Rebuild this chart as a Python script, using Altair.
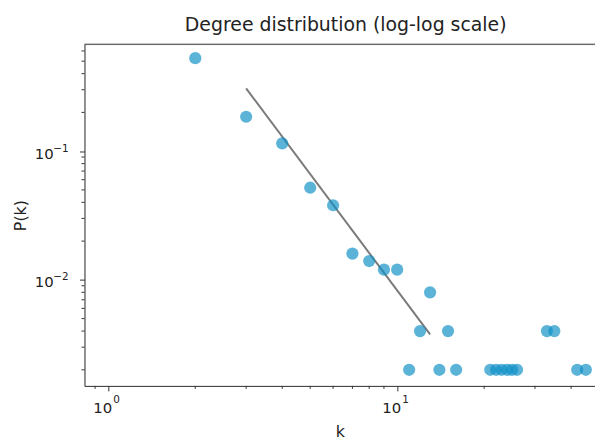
import altair as alt
import pandas as pd

# Data
k_vals = [2, 3, 4, 5, 6, 7, 8, 9, 10, 11, 12, 13, 14, 15, 16,
          21, 22, 23, 24, 25, 26, 33, 35, 42, 45]
p_vals = [0.528, 0.185, 0.115, 0.052, 0.038, 0.016, 0.014, 0.012, 0.012,
          0.002, 0.004, 0.008, 0.002, 0.004, 0.002,
          0.002, 0.002, 0.002, 0.002, 0.002, 0.002,
          0.004, 0.004, 0.002, 0.002]
fit_k = [3, 13]
fit_p = [0.307, 0.00377]

x_major = [1, 10]
x_major_exp = ["0", "1"]
x_minor = [0.9, 2, 3, 4, 5, 6, 7, 8, 9, 20, 30, 40]
y_major = [0.01, 0.1]
y_major_exp = ["−2", "−1"]
y_minor = [0.002, 0.003, 0.004, 0.005, 0.006, 0.007, 0.008, 0.009,
           0.02, 0.03, 0.04, 0.05, 0.06, 0.07, 0.08, 0.09,
           0.2, 0.3, 0.4, 0.5, 0.6]

x_domain = [0.827, 48.4]
y_domain = [0.0015, 0.677]

pts = pd.DataFrame({"k": k_vals, "P": p_vals})
fit = pd.DataFrame({"k": fit_k, "P": fit_p})
xmin_df = pd.DataFrame({"k": x_minor})
ymin_df = pd.DataFrame({"P": y_minor})
xlab_df = pd.DataFrame({"k": x_major, "base": ["10"] * len(x_major), "exp": x_major_exp})
ylab_df = pd.DataFrame({"P": y_major, "base": ["10"] * len(y_major), "exp": y_major_exp})

font = "DejaVu Sans"
txt = "#222222"

xscale = alt.Scale(type="log", domain=x_domain, nice=False)
yscale = alt.Scale(type="log", domain=y_domain, nice=False)

xaxis = alt.Axis(values=x_major, labels=False, title="k", grid=False,
                 tickSize=5, tickColor="#333", domainColor="#333",
                 titleFont=font, titleFontSize=16,
                 titleFontWeight="normal", titleColor=txt, titlePadding=32)
yaxis = alt.Axis(values=y_major, labels=False, title="P(k)", grid=False,
                 tickSize=5, tickColor="#333", domainColor="#333",
                 titleFont=font, titleFontSize=16,
                 titleFontWeight="normal", titleColor=txt, titlePadding=51)

points = alt.Chart(pts).mark_circle(size=150, color="#0e8fc6", opacity=0.68).encode(
    x=alt.X("k:Q", scale=xscale, axis=xaxis),
    y=alt.Y("P:Q", scale=yscale, axis=yaxis),
)

line = alt.Chart(fit).mark_line(color="#7a7a7a", strokeWidth=2).encode(
    x=alt.X("k:Q", scale=xscale),
    y=alt.Y("P:Q", scale=yscale),
)

xminor_ticks = alt.Chart(xmin_df).mark_rule(color="#333", strokeWidth=1).encode(
    x=alt.X("k:Q", scale=xscale),
    y=alt.value(344), y2=alt.value(347),
)
yminor_ticks = alt.Chart(ymin_df).mark_rule(color="#333", strokeWidth=1).encode(
    y=alt.Y("P:Q", scale=yscale),
    x=alt.value(-3), x2=alt.value(0),
)
top_border = alt.Chart(pd.DataFrame({"k": [x_domain[0]]})).mark_rule(
    color="#333", strokeWidth=1).encode(
    x=alt.value(0), x2=alt.value(514), y=alt.value(0),
)

# tick labels: base "10" plus superscript exponent
xlab_base = alt.Chart(xlab_df).mark_text(
    font=font, fontSize=15, color=txt, align="right", baseline="alphabetic", dx=4
).encode(x=alt.X("k:Q", scale=xscale), y=alt.value(371), text="base:N")
xlab_exp = alt.Chart(xlab_df).mark_text(
    font=font, fontSize=10.5, color=txt, align="left", baseline="alphabetic", dx=5
).encode(x=alt.X("k:Q", scale=xscale), y=alt.value(361), text="exp:N")
ylab_base = alt.Chart(ylab_df).mark_text(
    font=font, fontSize=15, color=txt, align="right", baseline="alphabetic", dy=7.5
).encode(y=alt.Y("P:Q", scale=yscale), x=alt.value(-31), text="base:N")
ylab_exp = alt.Chart(ylab_df).mark_text(
    font=font, fontSize=10.5, color=txt, align="left", baseline="alphabetic", dy=0.5
).encode(y=alt.Y("P:Q", scale=yscale), x=alt.value(-31.5), text="exp:N")

chart = alt.layer(line, points, xminor_ticks, yminor_ticks, top_border,
                  xlab_base, xlab_exp, ylab_base, ylab_exp).properties(
    width=514, height=344,
    title=alt.TitleParams("Degree distribution (log-log scale)", font=font,
                          fontSize=19, fontWeight="normal", color=txt,
                          dx=6, offset=9),
    autosize=alt.AutoSizeParams(type="none"),
    padding={"left": 77, "top": 35, "right": 0, "bottom": 55},
).configure_view(stroke=None).configure(background="white")

chart.save("out.html", embed_options={"renderer": "svg", "actions": False})
